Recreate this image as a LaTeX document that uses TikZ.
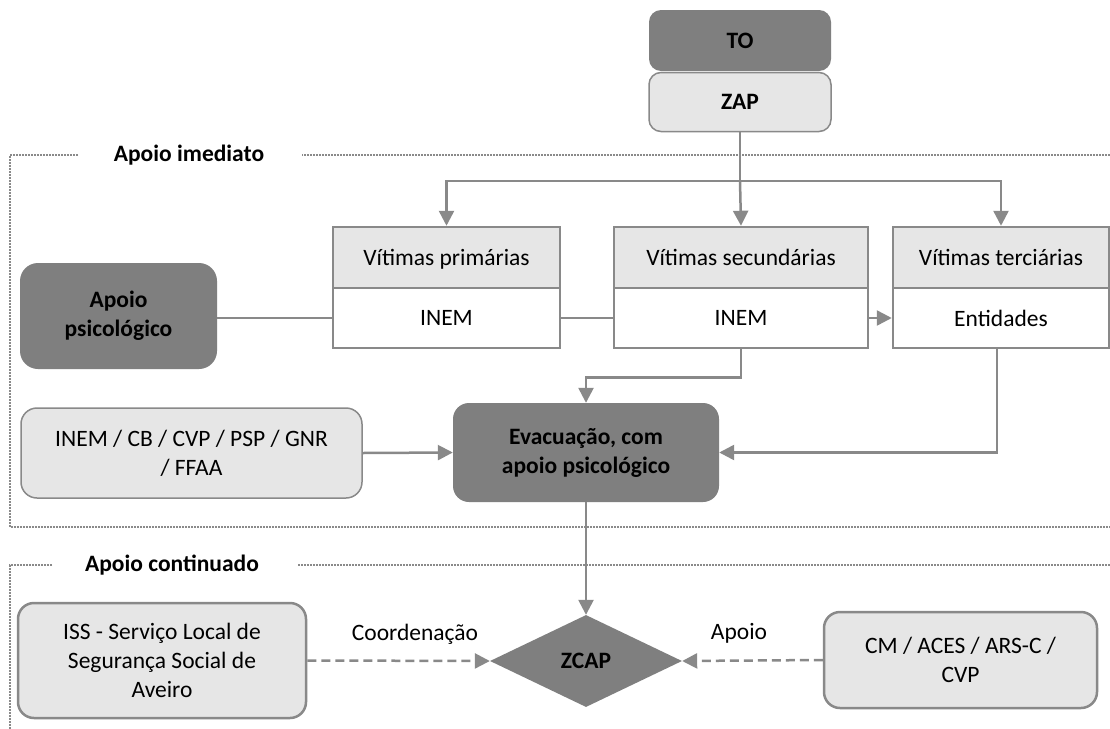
\documentclass[tikz,border=0pt]{standalone}
\usepackage{fontspec}
\setmainfont{Carlito}
\usetikzlibrary{arrows.meta,shapes.geometric,calc}
\definecolor{darkfill}{HTML}{7F7F7F}
\definecolor{lightfill}{HTML}{E6E6E6}
\definecolor{edge}{HTML}{898989}
\definecolor{framegray}{HTML}{8A8A8A}
\begin{document}
\begin{tikzpicture}[x=1pt,y=-1pt,
  font=\fontsize{23.5}{29}\selectfont,
  base/.style={inner sep=0pt, align=center},
  darkbox/.style={base, fill=darkfill, rounded corners=#1,
    font=\fontsize{23.5}{29}\selectfont\bfseries},
  lightbox/.style={base, fill=lightfill, draw=edge, line width=1.5pt, rounded corners=#1},
  headbox/.style={base, fill=lightfill, draw=edge, line width=2.5pt, minimum height=61pt, text depth=0pt},
  bodybox/.style={base, fill=white, draw=edge, line width=2.5pt, minimum height=60pt, text depth=0pt},
  conn/.style={draw=edge, line width=2.5pt},
  tip/.tip={Triangle[length=15pt,width=15pt]},
  arrow/.style={conn, -tip},
  dasharrow/.style={conn, dash pattern=on 9pt off 5pt, -tip},
  frame/.style={draw=framegray, line width=1.6pt, dash pattern=on 1.6pt off 1.4pt},
  title/.style={base, font=\fontsize{23.5}{29}\selectfont\bfseries},
  label/.style={base}
]
\useasboundingbox[fill=white] (0,0) rectangle (1110,728);

% section frames
\node[title] (imediato) at (189,155) {Apoio imediato};
\node[title] (continuado) at (172,565) {Apoio continuado};
\draw[frame] (78,155) -- (10,155) -- (10,527) -- (1114,527) -- (1114,155) -- (302,155);
\draw[frame] (52,565) -- (10,565) -- (10,740);
\draw[frame] (298,565) -- (1114,565);

% top blocks
\node[darkbox=12pt, minimum width=182pt, minimum height=61pt, text depth=0pt] (to) at (740,40.5) {TO};
\node[lightbox=12pt, minimum width=182pt, minimum height=59pt, text depth=0pt,
  font=\fontsize{23.5}{29}\selectfont\bfseries] (zap) at (740,102) {ZAP};

% victim categories
\node[headbox, minimum width=227pt] (prim1) at (446.5,257.5) {Vítimas primárias};
\node[bodybox, minimum width=227pt] (prim2) at (446.5,318) {INEM};
\node[headbox, minimum width=254pt] (sec1) at (741,257.5) {Vítimas secundárias};
\node[bodybox, minimum width=254pt] (sec2) at (741,318) {INEM};
\node[headbox, minimum width=216pt] (ter1) at (1001,257.5) {Vítimas terciárias};
\node[bodybox, minimum width=216pt] (ter2) at (1001,318) {Entidades};

% support and evacuation
\node[darkbox=18pt, minimum width=197pt, minimum height=106pt] (psi) at (118.5,316) {Apoio\\psicológico};
\node[lightbox=16pt, minimum width=341pt, minimum height=90pt] (inem) at (191.5,453) {INEM / CB / CVP / PSP / GNR\\/ FFAA};
\node[darkbox=16pt, minimum width=266pt, minimum height=99pt] (evac) at (586,452.5) {Evacuação, com\\apoio psicológico};

% continued support
\node[base, diamond, fill=darkfill, minimum width=192pt, minimum height=92pt,
  font=\fontsize{23.5}{29}\selectfont\bfseries] (zcap) at (586,661) {ZCAP};
\node[lightbox=16pt, line width=2.5pt, minimum width=288pt, minimum height=115pt] (iss) at (162,660.5)
  {ISS - Serviço Local de\\Segurança Social de\\Aveiro};
\node[lightbox=16pt, line width=2.5pt, minimum width=273pt, minimum height=96pt] (cm) at (960.5,660)
  {CM / ACES / ARS-C /\\CVP};
\node[label] (coord) at (415,634) {Coordenação};
\node[label] (apoio) at (739,633) {Apoio};

% connectors
\coordinate (branch) at (740,181);
\draw[conn] (zap.south) -- (branch);
\draw[arrow] (branch) -- (sec1.north);
\draw[conn, tip-tip] (prim1.north) |- (branch) -| (ter1.north);
\draw[conn] (prim2.west -| psi.east) -- (prim2.west);
\draw[conn] (prim2.east) -- (sec2.west);
\draw[arrow] (sec2.east) -- (ter2.west);
\draw[arrow] (sec2.south) -- ++(0,28) -| (evac.north);
\draw[arrow] (inem.east) -- (evac.west);
\draw[arrow] ($(ter2.south)+(-4,0)$) |- (evac.east);
\draw[arrow] (evac.south) -- (zcap.north);
\draw[dasharrow] (iss.east) -- (zcap.west);
\draw[dasharrow] (cm.west) -- (zcap.east);
\end{tikzpicture}
\end{document}
